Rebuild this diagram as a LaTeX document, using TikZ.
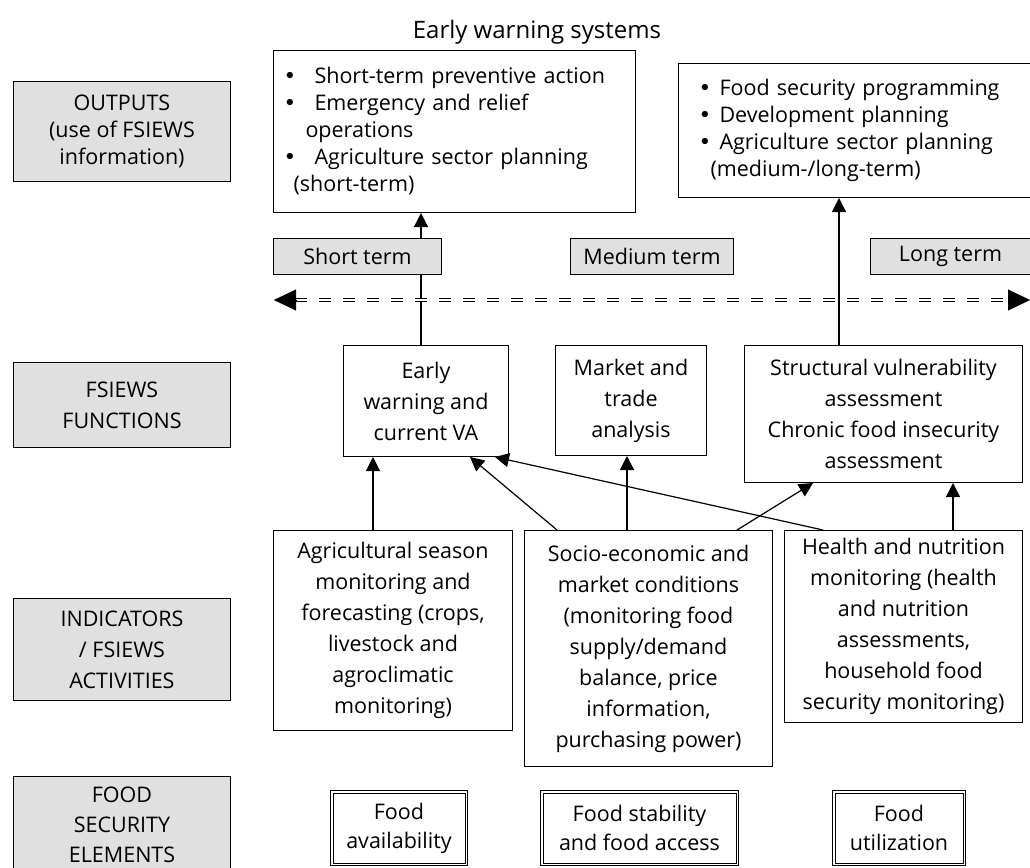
\documentclass[tikz,border=0pt]{standalone}
\usepackage{fontspec}
\setmainfont{Open Sans}
\newfontfamily\bulletfont{DejaVu Sans}
\usetikzlibrary{arrows.meta,calc}
\definecolor{greyfill}{RGB}{225,224,225}
\newcommand\bl[1]{\makebox[#1pt][l]{{\bulletfont •}}}
\begin{document}
\begin{tikzpicture}[x=1pt,y=-1pt,
  txt/.style={font=\fontsize{21.5}{27}\selectfont},
  txtb/.style={font=\fontsize{21.5}{31}\selectfont},
  wbox/.style={draw, line width=1pt, align=center, inner sep=0pt, anchor=north west, txtb},
  gbox/.style={wbox, fill=greyfill},
  dbox/.style={wbox, font=\fontsize{21.5}{29}\selectfont},
  arr/.style={line width=1.2pt, -{Triangle[length=14pt,width=14pt]}},
  bigarr/.style={line width=0.1pt, -{Triangle[length=22pt,width=21pt]}},
  dline/.style={dashed, dash pattern=on 12pt off 12pt, line width=1pt}]
\useasboundingbox (0,0) rectangle (1030,867);
% title
\node[font=\fontsize{24}{30}\selectfont] (title) at (537,32) {Early warning systems};
% left grey boxes
\node[gbox, txt, minimum width=217pt, minimum height=100pt] (outg) at (13,81) {OUTPUTS\\(use of FSIEWS\\information)};
\node[gbox, minimum width=217pt, minimum height=85pt] (funcg) at (13,362) {FSIEWS\\FUNCTIONS};
\node[gbox, minimum width=217pt, minimum height=102pt] (indg) at (13,598) {INDICATORS\\/ FSIEWS\\ACTIVITIES};
\node[gbox, font=\fontsize{21.5}{30}\selectfont, minimum width=217pt, minimum height=96pt] (foodg) at (13,776) {FOOD\\SECURITY\\ELEMENTS};
% outputs
\node[wbox, txt, align=left, text width=342pt, inner xsep=9pt, minimum width=362pt, minimum height=162pt] (out1) at (273,50)
 {\bl{31}Short-term preventive action\\
  \bl{31}Emergency and relief\\
  \hspace*{22pt}operations\\
  \bl{31}Agriculture sector planning\\
  \hspace*{10pt}(short-term)};
\node[wbox, txt, align=left, text width=322pt, inner xsep=20pt, minimum width=342pt, minimum height=134pt] (out2) at (678,63)
 {\bl{21}Food security programming\\
  \bl{21}Development planning\\
  \bl{21}Agriculture sector planning\\
  \hspace*{12pt}(medium-/long-term)};
% functions
\node[wbox, minimum width=165pt, minimum height=111pt] (ew) at (343,345) {Early\\warning and\\current VA};
\node[wbox, minimum width=151pt, minimum height=110pt] (mkt) at (555,345) {Market and\\trade\\analysis};
\node[wbox, minimum width=278pt, minimum height=137pt] (str) at (744,345) {Structural vulnerability\\assessment\\Chronic food insecurity\\assessment};
% vertical connectors to outputs (drawn below the term boxes)
\draw[arr] (ew.north -| 421,0) -- (out1.south -| 421,0);
\draw[arr] (str.north -| 839,0) -- (out2.south -| 839,0);
% term boxes
\node[gbox, minimum width=168pt, minimum height=36pt] (short) at (273,238) {Short term};
\node[gbox, minimum width=163pt, minimum height=36pt] (medium) at (570,238) {Medium term};
\node[gbox, minimum width=170pt, minimum height=36pt] (long) at (870,238) {\hspace*{-10pt}Long term};
% dashed double arrow
\coordinate (dl) at (274,300);
\coordinate (dr) at (1030,300);
\draw[dline, double, double distance=2pt] ($(dl)+(21,0)$) -- ($(dr)+(-21,0)$);
\draw[bigarr] ($(dl)+(22,0)$) -- (dl);
\draw[bigarr] ($(dr)+(-22,0)$) -- (dr);
% indicators
\node[wbox, minimum width=239pt, minimum height=200pt] (ag) at (273,530) {Agricultural season\\monitoring and\\forecasting (crops,\\livestock and\\agroclimatic\\monitoring)};
\node[wbox, minimum width=248pt, minimum height=236pt] (soc) at (524,530) {Socio-economic and\\market conditions\\(monitoring food\\supply/demand\\balance, price\\information,\\purchasing power)};
\node[wbox, minimum width=238pt, minimum height=192pt] (hea) at (784,530) {Health and nutrition\\monitoring (health\\and nutrition\\assessments,\\household food\\security monitoring)};
% food elements
\node[dbox, minimum width=137pt, minimum height=75pt] (fa) at (330,790) {Food\\availability};
\node[dbox, minimum width=198pt, minimum height=75pt] (fs) at (540,790) {Food stability\\and food access};
\node[dbox, minimum width=133pt, minimum height=75pt] (fu) at (832,790) {Food\\utilization};
\foreach \n in {fa,fs,fu}
  \draw[line width=0.8pt] ($(\n.north west)+(3,3)$) rectangle ($(\n.south east)+(-3,-3)$);
% connectors
\draw[arr] (ag.north -| 373,0) -- (ew.south -| 373,0);
\draw[arr] (soc.north -| 557,0) -- (ew.south -| 470,0);
\draw[arr] (soc.north -| 627,0) -- (mkt.south -| 627,0);
\draw[arr] (soc.north -| 737,0) -- (str.south -| 813,0);
\draw[arr] (hea.north -| 823,0) -- (ew.south -| 495,0);
\draw[arr] (hea.north -| 953,0) -- (str.south -| 953,0);
\end{tikzpicture}
\end{document}
